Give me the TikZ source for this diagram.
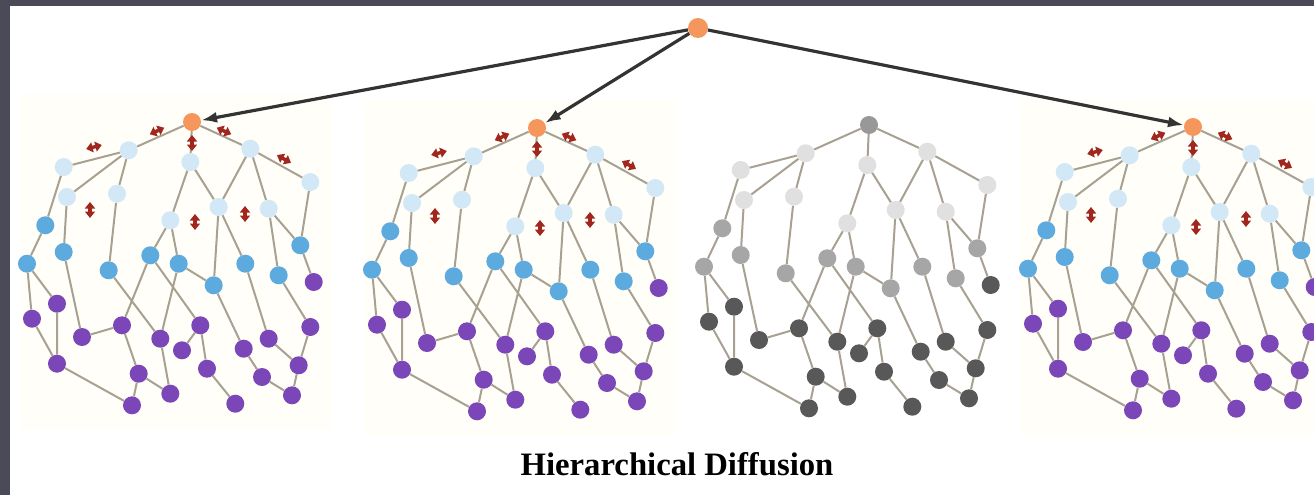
\documentclass[tikz,border=0pt]{standalone}
\usepackage{fontspec}
\setmainfont{Liberation Serif}
\usetikzlibrary{arrows.meta}

\definecolor{framegray}{RGB}{74,74,88}
\definecolor{rootorange}{RGB}{245,150,92}
\definecolor{paleblue}{RGB}{210,232,246}
\definecolor{midblue}{RGB}{92,170,222}
\definecolor{deeppurple}{RGB}{122,70,184}
\definecolor{linkgray}{RGB}{168,161,146}
\definecolor{markred}{RGB}{160,38,30}
\definecolor{panelcream}{RGB}{255,254,248}
\definecolor{grayroot}{RGB}{152,152,152}
\definecolor{graypale}{RGB}{224,224,224}
\definecolor{graymid}{RGB}{166,166,166}
\definecolor{graydeep}{RGB}{88,88,88}

\tikzset{
  hnode/.style={circle,inner sep=0pt,minimum size=18pt},
  treelink/.style={draw=linkgray,line width=2pt},
  spread/.style={draw=black!80,line width=3.2pt,-{Latex[length=16pt,width=11pt]}},
  diffmark/.style={draw=markred,line width=3.5pt,{Triangle[length=6.5pt,width=10pt]}-{Triangle[length=6.5pt,width=10pt]}},
}

% one tree: prefix, x, y, root, pale, mid, deep, panel
\newcommand{\hiertree}[8]{%
\begin{scope}[shift={(#2,#3)}]
  \fill[#8] (-172,-28) rectangle (140,308);
  \node[hnode,fill=#4] (#1-root) at (0,0) {};
  % pale level
  \node[hnode,fill=#5] (#1-p1) at (-63.3,28.3) {};
  \node[hnode,fill=#5] (#1-p2) at (-1.7,40) {};
  \node[hnode,fill=#5] (#1-p3) at (58.3,26.7) {};
  \node[hnode,fill=#5] (#1-p4) at (-128.3,45) {};
  \node[hnode,fill=#5] (#1-p5) at (-125,75) {};
  \node[hnode,fill=#5] (#1-p6) at (-75,71.7) {};
  \node[hnode,fill=#5] (#1-p7) at (-21.7,98.3) {};
  \node[hnode,fill=#5] (#1-p8) at (26.7,85) {};
  \node[hnode,fill=#5] (#1-p9) at (76.7,86.7) {};
  \node[hnode,fill=#5] (#1-p10) at (118.3,60) {};
  % mid level
  \node[hnode,fill=#6] (#1-m1) at (-146.7,103.3) {};
  \node[hnode,fill=#6] (#1-m2) at (-165,141.7) {};
  \node[hnode,fill=#6] (#1-m3) at (-128.3,130) {};
  \node[hnode,fill=#6] (#1-m4) at (-83.3,148.3) {};
  \node[hnode,fill=#6] (#1-m5) at (-41.7,133.3) {};
  \node[hnode,fill=#6] (#1-m6) at (-13.3,141.7) {};
  \node[hnode,fill=#6] (#1-m7) at (21.7,163.3) {};
  \node[hnode,fill=#6] (#1-m8) at (53.3,141.7) {};
  \node[hnode,fill=#6] (#1-m9) at (86.7,153.3) {};
  \node[hnode,fill=#6] (#1-m10) at (108.3,123.3) {};
  % deep level
  \node[hnode,fill=#7] (#1-d1) at (121.7,160) {};
  \node[hnode,fill=#7] (#1-d2) at (-135,181.7) {};
  \node[hnode,fill=#7] (#1-d3) at (-160,196.7) {};
  \node[hnode,fill=#7] (#1-d4) at (-110,215) {};
  \node[hnode,fill=#7] (#1-d5) at (-70,203.3) {};
  \node[hnode,fill=#7] (#1-d6) at (-31.7,216.7) {};
  \node[hnode,fill=#7] (#1-d7) at (8.3,203.3) {};
  \node[hnode,fill=#7] (#1-d8) at (-10,228.3) {};
  \node[hnode,fill=#7] (#1-d9) at (51.7,226.7) {};
  \node[hnode,fill=#7] (#1-d10) at (76.7,216.7) {};
  \node[hnode,fill=#7] (#1-d11) at (118.3,205) {};
  \node[hnode,fill=#7] (#1-d12) at (-135,241.7) {};
  \node[hnode,fill=#7] (#1-d13) at (-53.3,251.7) {};
  \node[hnode,fill=#7] (#1-d14) at (15,246.7) {};
  \node[hnode,fill=#7] (#1-d15) at (70,255) {};
  \node[hnode,fill=#7] (#1-d16) at (106.7,243.3) {};
  \node[hnode,fill=#7] (#1-d17) at (-60,283.3) {};
  \node[hnode,fill=#7] (#1-d18) at (-21.7,271.7) {};
  \node[hnode,fill=#7] (#1-d19) at (43.3,281.7) {};
  \node[hnode,fill=#7] (#1-d20) at (100,273.3) {};
  % links
  \draw[treelink] (#1-root) -- (#1-p1) (#1-root) -- (#1-p2) (#1-root) -- (#1-p3)
    (#1-p1) -- (#1-p4) (#1-p1) -- (#1-p5) (#1-p1) -- (#1-p6)
    (#1-p2) -- (#1-p7) (#1-p2) -- (#1-p8)
    (#1-p3) -- (#1-p8) (#1-p3) -- (#1-p9) (#1-p3) -- (#1-p10)
    (#1-p4) -- (#1-m1) (#1-m1) -- (#1-m2) (#1-p5) -- (#1-m3) (#1-p6) -- (#1-m4)
    (#1-p7) -- (#1-m5) (#1-p7) -- (#1-m6) (#1-p8) -- (#1-m7) (#1-p8) -- (#1-m8)
    (#1-p9) -- (#1-m9) (#1-p9) -- (#1-m10) (#1-p10) -- (#1-m10)
    (#1-m6) -- (#1-m7) (#1-m10) -- (#1-d1)
    (#1-m2) -- (#1-d2) (#1-m2) -- (#1-d3) (#1-d2) -- (#1-d12) (#1-d3) -- (#1-d12)
    (#1-m3) -- (#1-d4) (#1-d4) -- (#1-d5) (#1-m4) -- (#1-d6)
    (#1-m5) -- (#1-d5) (#1-m5) -- (#1-d7) (#1-m6) -- (#1-d6)
    (#1-m7) -- (#1-d9) (#1-m8) -- (#1-d10) (#1-m9) -- (#1-d11)
    (#1-d5) -- (#1-d13) (#1-d13) -- (#1-d17) (#1-d12) -- (#1-d17)
    (#1-d6) -- (#1-d18) (#1-d13) -- (#1-d18)
    (#1-d7) -- (#1-d8) (#1-d7) -- (#1-d14) (#1-d14) -- (#1-d19)
    (#1-d9) -- (#1-d15) (#1-d15) -- (#1-d20)
    (#1-d10) -- (#1-d16) (#1-d11) -- (#1-d16) (#1-d16) -- (#1-d20);
\end{scope}}

% red two-way marks round a root
\newcommand{\diffmarks}[2]{%
\begin{scope}[shift={(#1,#2)}]
  \draw[diffmark] (-27.7,5.7) -- (-42.3,12.3);
  \draw[diffmark] (24.7,5.7) -- (39.3,12.3);
  \draw[diffmark] (0,13) -- (0,29);
  \draw[diffmark] (-90.2,23) -- (-105.8,27);
  \draw[diffmark] (85,33.1) -- (99,40.9);
  \draw[diffmark] (-102,80) -- (-102,96);
  \draw[diffmark] (3,92) -- (3,108);
  \draw[diffmark] (53,84) -- (53,100);
\end{scope}}

\begin{document}
\begin{tikzpicture}[x=1pt,y=-1pt]
  \useasboundingbox (0,0) rectangle (1314,495);
  \clip (0,0) rectangle (1314,495);
  \fill[white] (0,0) rectangle (1314,495);

  \hiertree{t1}{192}{122}{rootorange}{paleblue}{midblue}{deeppurple}{panelcream}
  \hiertree{t2}{537}{128}{rootorange}{paleblue}{midblue}{deeppurple}{panelcream}
  \hiertree{t3}{869}{125}{grayroot}{graypale}{graymid}{graydeep}{white}
  \hiertree{t4}{1193}{127}{rootorange}{paleblue}{midblue}{deeppurple}{panelcream}

  \diffmarks{192}{122}
  \diffmarks{537}{128}
  \diffmarks{1193}{127}

  \node[hnode,fill=rootorange,minimum size=20pt] (src) at (698,28) {};
  \draw[spread] (src) -- (t1-root);
  \draw[spread] (src) -- (t2-root);
  \draw[spread] (src) -- (t4-root);

  \node[font=\fontsize{32.7}{36}\selectfont\bfseries,anchor=base] (caption) at (677,475) {Hierarchical Diffusion};

  % frame strips
  \fill[framegray] (0,0) rectangle (1314,6);
  \fill[framegray] (0,0) rectangle (10,495);
\end{tikzpicture}
\end{document}
